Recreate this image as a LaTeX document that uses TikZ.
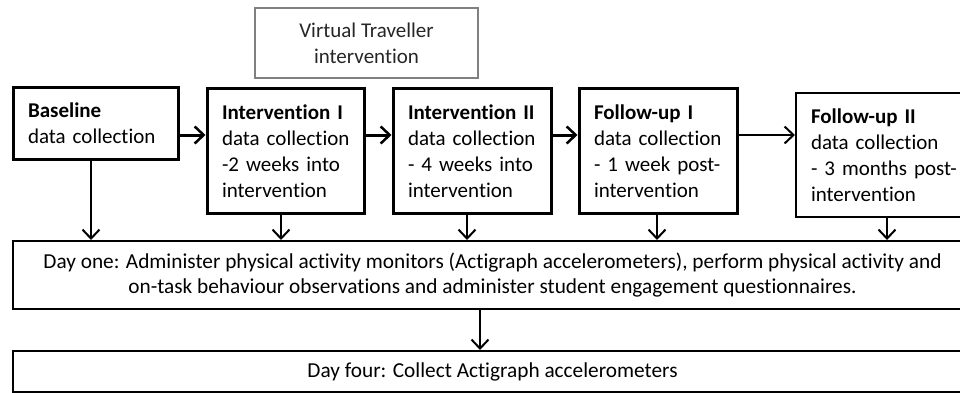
\documentclass[tikz,border=0pt]{standalone}
\usepackage{fontspec}
\setmainfont{Carlito}[Ligatures=NoCommon]
\usetikzlibrary{arrows.meta}
% one unbreakable line of box text
\newcommand{\boxline}[1]{\mbox{#1}}
\begin{document}
\begin{tikzpicture}[x=1pt,y=-1pt,
  every node/.style={font=\fontsize{21}{26}\selectfont},
  phase/.style={draw=black, line width=3pt, align=left, inner xsep=15pt, inner ysep=0pt},
  daybox/.style={draw=black, line width=2pt, align=center, inner sep=0pt,
    font=\fontsize{21.3}{25}\selectfont},
  arr/.style={line width=2pt, -{Straight Barb[length=9pt,width=17pt,line width=2pt]}},
  harr/.style={line width=3pt, -{Straight Barb[length=9pt,width=17pt,line width=2.5pt]}}]
\useasboundingbox (0,0) rectangle (960,393);
\clip (0,0) rectangle (960,393);

% intervention label
\node[draw=black!50, line width=1.8pt, text=black!85, align=center,
  minimum width=223pt, minimum height=70pt, inner sep=0pt]
  (vt) at (366.5,43) {Virtual Traveller\\intervention};

% data collection phases
\node[phase, text width=135pt, minimum height=71pt] (base) at (95.5,123.5)
  {\boxline{\textbf{Baseline}}\\\boxline{data collection}};
\node[phase, text width=127pt, minimum height=124pt] (int1) at (285.5,151)
  {\boxline{\textbf{Intervention I}}\\\boxline{data collection}\\\boxline{-2 weeks into}\\\boxline{intervention}};
\node[phase, text width=128pt, minimum height=124pt] (int2) at (472,151)
  {\boxline{\textbf{Intervention II}}\\\boxline{data collection}\\\boxline{- 4 weeks into}\\\boxline{intervention}};
\node[phase, text width=128pt, minimum height=124pt] (fu1) at (658,151)
  {\boxline{\textbf{Follow-up I}}\\\boxline{data collection}\\\boxline{- 1 week post-}\\\boxline{intervention}};
\node[phase, line width=2pt, text width=144pt, minimum height=124pt] (fu2) at (883,155)
  {\boxline{\textbf{Follow-up II}}\\\boxline{data collection}\\\boxline{- 3 months post-}\\\boxline{intervention}};

% measurement days
\node[daybox, minimum width=959pt, minimum height=68pt] (day1) at (492.5,275)
  {Day one: Administer physical activity monitors (Actigraph accelerometers), perform physical activity and\\
   on-task behaviour observations and administer student engagement questionnaires.};
\node[daybox, minimum width=959pt, minimum height=41pt] (day4) at (492.5,371.5)
  {Day four: Collect Actigraph accelerometers};

% sequence of phases
\draw[harr] (base.east |- 0,135) -- (int1.west |- 0,135);
\draw[harr] (int1.east |- 0,135) -- (int2.west |- 0,135);
\draw[harr] (int2.east |- 0,135) -- (fu1.west |- 0,135);
\draw[arr]  (fu1.east |- 0,135) -- (fu2.west |- 0,135);

% each phase feeds the day-one procedures
\draw[arr] ([xshift=-4.5pt]base.south) -- ([xshift=-4.5pt]base.south |- day1.north);
\draw[arr] ([xshift=-4.5pt]int1.south) -- ([xshift=-4.5pt]int1.south |- day1.north);
\draw[arr] ([xshift=-5pt]int2.south) -- ([xshift=-5pt]int2.south |- day1.north);
\draw[arr] ([xshift=-1pt]fu1.south) -- ([xshift=-1pt]fu1.south |- day1.north);
\draw[arr] ([xshift=4pt]fu2.south) -- ([xshift=4pt]fu2.south |- day1.north);

% day one to day four
\draw[arr] ([xshift=-12.5pt]day1.south) -- ([xshift=-12.5pt]day4.north);
\end{tikzpicture}
\end{document}
